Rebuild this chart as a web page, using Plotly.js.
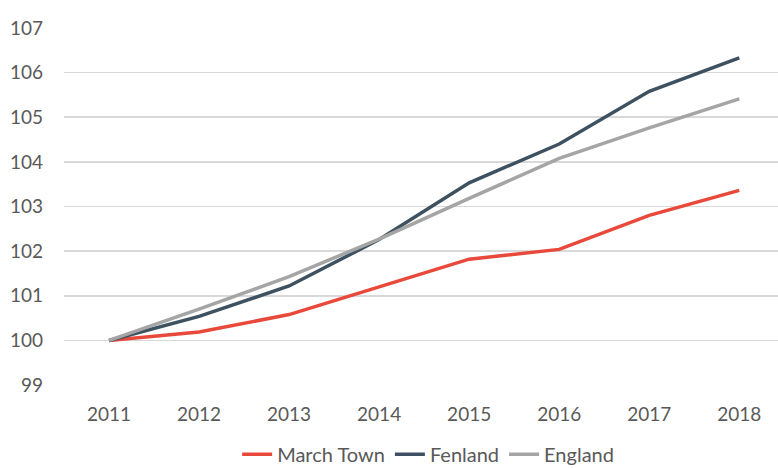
<!DOCTYPE html>
<html>
<head>
<meta charset="utf-8">
<script src="https://cdn.plot.ly/plotly-3.0.1.min.js"></script>
<style>html,body{margin:0;padding:0;background:#fff;}#chart{width:778px;height:468px;}</style>
</head>
<body>
<div id="chart"></div>
<script>
const years = [2011, 2012, 2013, 2014, 2015, 2016, 2017, 2018];
const marchTown = [100, 100.19, 100.58, 101.2, 101.82, 102.04, 102.8, 103.36];
const fenland = [100, 100.54, 101.22, 102.26, 103.53, 104.4, 105.58, 106.33];
const england = [100, 100.7, 101.43, 102.27, 103.18, 104.08, 104.76, 105.41];
const yTicks = [99, 100, 101, 102, 103, 104, 105, 106, 107];

const mk = (name, y, color) => ({
  x: years, y: y, name: name, type: 'scatter', mode: 'lines',
  line: {color: color, width: 3.5}
});

const data = [
  mk('March Town', marchTown, '#E8493A'),
  mk('Fenland', fenland, '#3E5160'),
  mk('England', england, '#A5A5A5')
];

const layout = {
  width: 778, height: 468,
  margin: {l: 64, r: 0, t: 27, b: 82, autoexpand: false},
  paper_bgcolor: '#fff', plot_bgcolor: '#fff',
  font: {family: 'Lato, "Open Sans", sans-serif', size: 19, color: '#595959'},
  showlegend: true,
  legend: {orientation: 'h', x: 0.51, xanchor: 'center', y: -0.19, yanchor: 'middle',
           font: {size: 20, color: '#595959'}, itemwidth: 30},
  xaxis: {range: [2010.5, 2018.43], tickmode: 'array', tickvals: years,
          ticktext: years.map(String), showgrid: false, zeroline: false,
          showline: false, ticks: '', ticklen: 0, ticklabelstandoff: 15, fixedrange: true},
  yaxis: {range: [98.98, 107.02], tickmode: 'array', tickvals: yTicks,
          ticktext: yTicks.map(String), showgrid: true, gridcolor: '#D9D9D9',
          gridwidth: 1.5, zeroline: false, showline: false, ticks: '', ticklabelstandoff: 20}
};

Plotly.newPlot('chart', data, layout, {displayModeBar: false, staticPlot: true});
</script>
</body>
</html>
